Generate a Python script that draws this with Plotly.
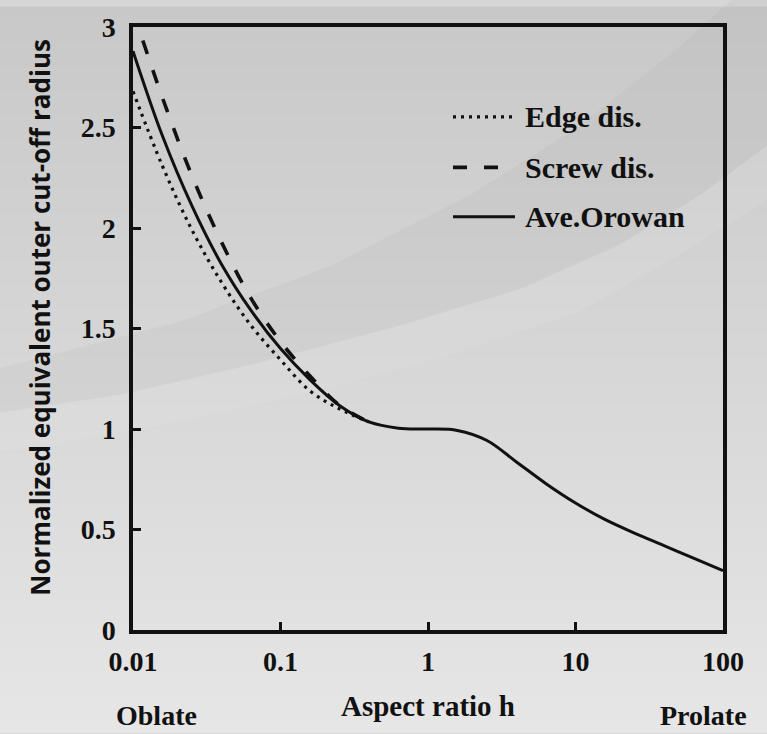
import plotly.graph_objects as go

# Normalized equivalent outer cut-off radius versus inclusion aspect ratio h
h_edge = [0.01, 0.0158, 0.0251, 0.0398, 0.0631, 0.1, 0.158, 0.251, 0.398]
r_edge = [2.68, 2.31, 1.99, 1.73, 1.515, 1.344, 1.19, 1.10, 1.035]

h_screw = [0.01, 0.0158, 0.0251, 0.0398, 0.0631, 0.1, 0.158, 0.251, 0.398]
r_screw = [3.08, 2.65, 2.26, 1.93, 1.65, 1.435, 1.265, 1.118, 1.035]

h_orowan = [0.01, 0.0158, 0.0251, 0.0398, 0.0631, 0.1, 0.158, 0.251, 0.398, 0.631, 1.0,
            1.58, 2.51, 3.98, 6.31, 10, 15.8, 25.1, 39.8, 63.1, 100]
r_orowan = [2.88, 2.46, 2.11, 1.82, 1.59, 1.40, 1.246, 1.117, 1.035, 1.004, 1.0,
            0.993, 0.943, 0.836, 0.728, 0.632, 0.55, 0.482, 0.42, 0.357, 0.295]

series_names = ["Edge dis.", "Screw dis.", "Ave.Orowan"]

x_tick_vals = [0.01, 0.1, 1, 10, 100]
x_tick_text = ["0.01", "0.1", "1", "10", "100"]
y_tick_vals = [0, 0.5, 1, 1.5, 2, 2.5, 3]
y_tick_text = ["0", "0.5", "1", "1.5", "2", "2.5", "3"]

W, H = 767, 734
ML, MR, MT, MB = 133, 44, 20, 104
PW, PH = W - ML - MR, H - MT - MB

SERIF = "Liberation Serif"
INK = "#111111"


def px(x):
    """Figure pixel column -> paper x."""
    return (x - ML) / PW


def py(y):
    """Figure pixel row -> paper y."""
    return (H - MB - y) / PH


styles = [
    dict(dash="3px,5px", width=3.2),
    dict(dash="14px,17px", width=3.6),
    dict(dash="solid", width=3.0),
]

fig = go.Figure()
for name, xs, ys, st in zip(series_names,
                            [h_edge, h_screw, h_orowan],
                            [r_edge, r_screw, r_orowan], styles):
    fig.add_trace(go.Scatter(
        x=xs, y=ys, mode="lines", name=name,
        line=dict(color=INK, width=st["width"], dash=st["dash"],
                  shape="spline", smoothing=1.0),
        showlegend=False,
    ))

shapes = []

# soft vertical grey gradient behind everything
n_bands = 60
top_c, bot_c = (200, 200, 200), (230, 230, 230)
for i in range(n_bands):
    t = (i + 0.5) / n_bands
    c = tuple(int(round(a + (b - a) * t)) for a, b in zip(top_c, bot_c))
    shapes.append(dict(
        type="rect", xref="paper", yref="paper", layer="below",
        x0=px(0), x1=px(W), y0=py(H * i / n_bands - 0.5), y1=py(H * (i + 1) / n_bands + 0.5),
        fillcolor=f"rgb{c}", line=dict(width=0),
    ))


def path_from(points):
    segs = [f"{'M' if k == 0 else 'L'} {px(a):.4f},{py(b):.4f}" for k, (a, b) in enumerate(points)]
    return " ".join(segs) + " Z"


# faint darker sweep rising towards the upper right
band_lower = [(0, 410), (120, 392), (250, 362), (400, 322), (520, 285), (620, 240), (700, 190), (767, 140)]
band_upper = [(767, -40), (680, 40), (580, 120), (470, 190), (330, 262), (180, 318), (0, 365)]
shapes.append(dict(
    type="path", xref="paper", yref="paper", layer="below",
    path=path_from(band_lower + band_upper),
    fillcolor="rgba(120,120,120,0.06)", line=dict(width=0),
))
# faint highlight just below the sweep
hl_upper = band_lower[::-1]
hl_lower = [(0, 450), (150, 425), (300, 392), (450, 352), (580, 308), (680, 250), (767, 195)]
shapes.append(dict(
    type="path", xref="paper", yref="paper", layer="below",
    path=path_from(hl_lower + hl_upper),
    fillcolor="rgba(255,255,255,0.07)", line=dict(width=0),
))

# legend samples
legend_rows = [111, 162, 212]
for row, st in zip(legend_rows, styles):
    shapes.append(dict(
        type="line", xref="paper", yref="paper", layer="above",
        x0=px(453), x1=px(515), y0=py(row), y1=py(row),
        line=dict(color=INK, width=st["width"], dash=st["dash"]),
    ))

annotations = []
for row, name in zip(legend_rows, series_names):
    annotations.append(dict(
        text=f"<b>{name}</b>", xref="paper", yref="paper",
        x=px(523), y=py(row), xanchor="left", yanchor="middle", showarrow=False,
        font=dict(family=SERIF, size=30, color=INK),
    ))

for label, cx in [("Oblate", 156), ("Prolate", 703)]:
    annotations.append(dict(
        text=f"<b>{label}</b>", xref="paper", yref="paper",
        x=px(cx), y=py(716), xanchor="center", yanchor="middle", showarrow=False,
        font=dict(family=SERIF, size=28, color=INK),
    ))

# vertical axis title, placed a little above the plot's middle
annotations.append(dict(
    text="<b>Normalized equivalent outer cut-off radius</b>", xref="paper", yref="paper",
    x=px(40), y=py(314), xanchor="center", yanchor="middle", showarrow=False,
    textangle=-90, font=dict(family="Open Sans", size=26, color=INK),
))

axis_common = dict(
    showline=True, linecolor=INK, linewidth=3.5, mirror=True,
    ticks="inside", ticklen=8, tickwidth=3, tickcolor=INK,
    showgrid=False, zeroline=False,
    tickfont=dict(family=SERIF, size=28, color=INK),
)

fig.update_layout(
    width=W, height=H, autosize=False,
    margin=dict(l=ML, r=MR, t=MT, b=MB, pad=0),
    paper_bgcolor="rgb(214,214,214)",
    plot_bgcolor="rgba(0,0,0,0)",
    shapes=shapes,
    annotations=annotations,
    xaxis=dict(
        type="log", range=[-2, 2],
        tickvals=x_tick_vals, ticktext=[f"<b>{t}</b>" for t in x_tick_text],
        ticklabelstandoff=4,
        title=dict(text="<b>Aspect ratio h</b>", standoff=20,
                   font=dict(family=SERIF, size=29, color=INK)),
        **axis_common,
    ),
    yaxis=dict(
        range=[0, 3],
        tickvals=y_tick_vals, ticktext=[f"<b>{t}</b>" for t in y_tick_text],
        ticklabelstandoff=8,
        **axis_common,
    ),
)

fig.write_html("out.html")
